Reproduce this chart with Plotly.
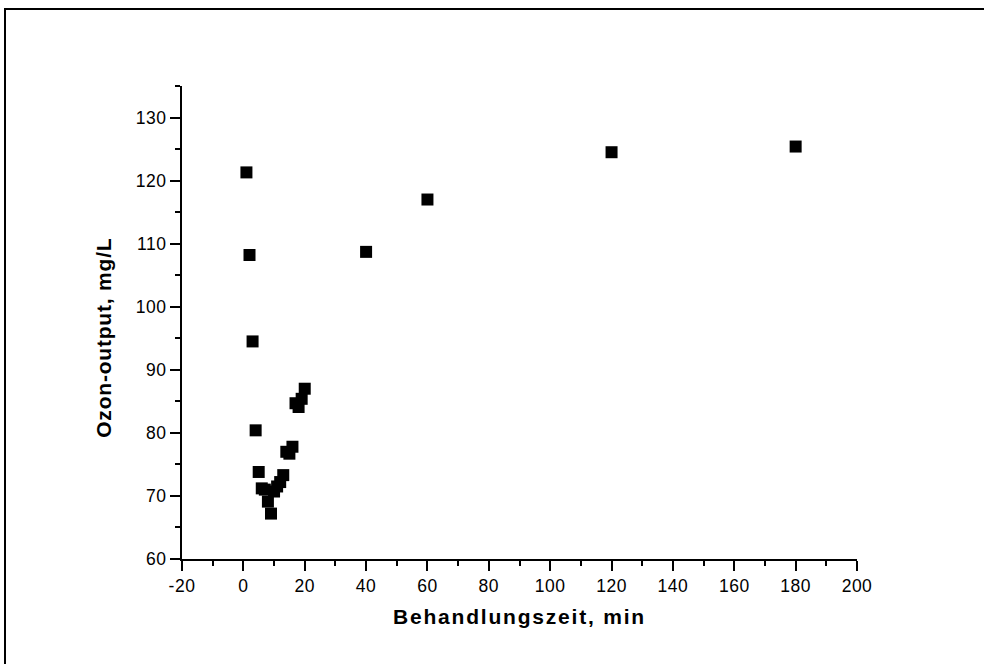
import plotly.graph_objects as go

# Data
behandlungszeit = [1, 2, 3, 4, 5, 6, 7, 8, 9, 10, 11, 12, 13, 14, 15, 16, 17, 18, 19, 20, 40, 60, 120, 180]
ozon_output = [121.3, 108.2, 94.5, 80.4, 73.8, 71.2, 71.0, 69.1, 67.2, 70.7, 71.5, 72.2, 73.3,
               77.0, 76.7, 77.8, 84.7, 84.1, 85.4, 87.0, 108.7, 117.0, 124.5, 125.4]

x_tickvals = [-20, 0, 20, 40, 60, 80, 100, 120, 140, 160, 180, 200]
y_tickvals = [60, 70, 80, 90, 100, 110, 120, 130]
x_title = "Behandlungszeit, min"
y_title = "Ozon-output, mg/L"

W, H = 984, 664
L, R, T, B = 182, 127, 86, 105
pw, ph = W - L - R, H - T - B

def px_to_paper_x(px):
    return (px - L) / pw

def px_to_paper_y(py):
    return (H - B - py) / ph

font_family = "Liberation Sans, Arial, sans-serif"

fig = go.Figure()
fig.add_trace(go.Scatter(
    x=behandlungszeit, y=ozon_output, mode="markers",
    marker=dict(symbol="square", size=12, color="black", line=dict(width=0)),
    showlegend=False, cliponaxis=False, hoverinfo="skip",
))

axis_common = dict(
    showline=True, linecolor="black", linewidth=2,
    ticks="outside", ticklen=10, tickwidth=2, tickcolor="black",
    showgrid=False, zeroline=False, mirror=False,
    tickfont=dict(family=font_family, size=17.5, color="black"),
)

fig.update_xaxes(
    range=[-20, 200], tickvals=x_tickvals, ticktext=[str(v) for v in x_tickvals],
    minor=dict(dtick=10, ticks="outside", ticklen=5, tickwidth=2, tickcolor="black", showgrid=False),
    title=dict(text="<b>" + x_title + "</b>", font=dict(family=font_family, size=21, color="black"), standoff=14),
    **axis_common,
)
fig.update_yaxes(
    range=[60, 135], tickvals=y_tickvals, ticktext=[str(v) for v in y_tickvals],
    minor=dict(dtick=5, ticks="outside", ticklen=5, tickwidth=2, tickcolor="black", showgrid=False),
    **axis_common,
)

fig.add_annotation(
    text="<b>" + y_title + "</b>", textangle=-90, showarrow=False,
    xref="paper", yref="paper", x=px_to_paper_x(103), y=px_to_paper_y(338),
    xanchor="center", yanchor="middle",
    font=dict(family=font_family, size=21, color="black"),
)

# outer frame
fig.add_shape(type="rect", xref="paper", yref="paper",
              x0=px_to_paper_x(5), x1=px_to_paper_x(W + 10),
              y0=px_to_paper_y(H + 10), y1=px_to_paper_y(9),
              line=dict(color="black", width=2), fillcolor="rgba(0,0,0,0)", layer="above")

fig.update_layout(
    width=W, height=H,
    margin=dict(l=L, r=R, t=T, b=B, autoexpand=False),
    paper_bgcolor="white", plot_bgcolor="white",
)

post = """
document.body.style.margin = '0';
var st = document.createElement('style');
st.textContent = '.xtitle {letter-spacing: 1.8px;} .annotation-text {letter-spacing: 0.8px;} .xtick text, .ytick text {letter-spacing: 0.5px;}';
document.head.appendChild(st);
"""

fig.write_html("out.html", post_script=post, config={"displayModeBar": False, "staticPlot": True})
